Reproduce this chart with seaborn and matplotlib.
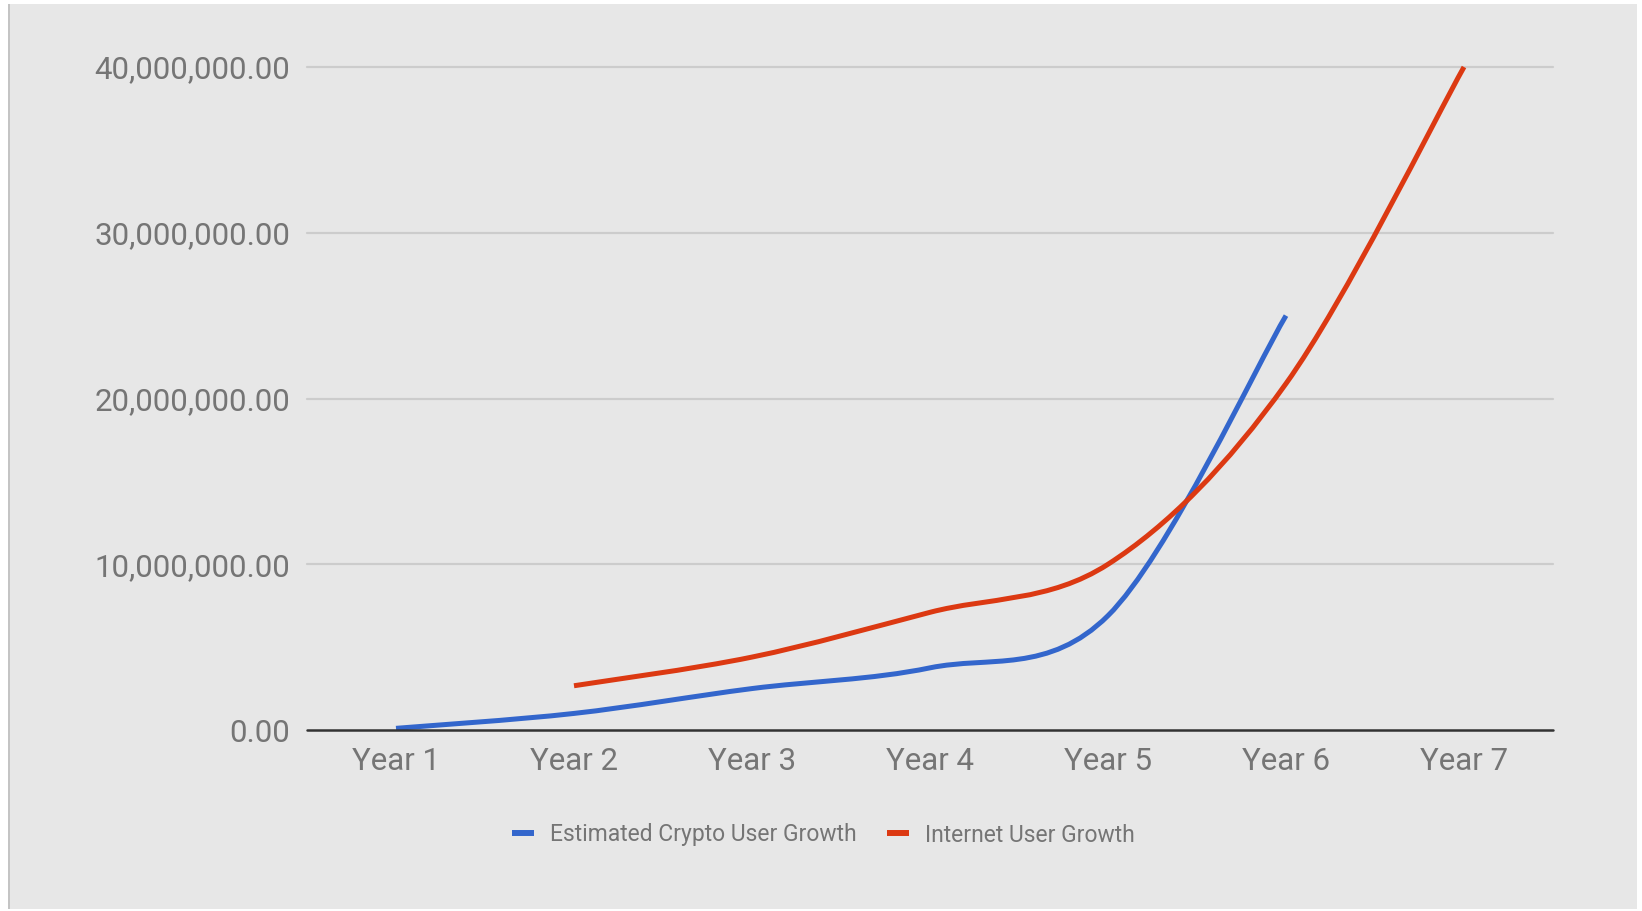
import numpy as np
import pandas as pd
import seaborn as sns
import matplotlib
matplotlib.use("Agg")
import matplotlib.pyplot as plt
from matplotlib.path import Path
from matplotlib.patches import PathPatch, Rectangle
from matplotlib.lines import Line2D
from matplotlib.ticker import FuncFormatter, FixedLocator

# ---- data ----
categories = ["Year 1", "Year 2", "Year 3", "Year 4", "Year 5", "Year 6", "Year 7"]
crypto_users = [0.1e6, 1.0e6, 2.5e6, 3.75e6, 6.9e6, 25.0e6, None]
internet_users = [None, 2.67e6, 4.4e6, 7.1e6, 10.0e6, 20.9e6, 40.0e6]
series_names = ["Estimated Crypto User Growth", "Internet User Growth"]
y_ticks = [0, 10e6, 20e6, 30e6, 40e6]

colors = ["#3366cc", "#dc3912"]
bg = "#e7e7e7"
text_col = "#757575"

sns.set_theme(style="white")
plt.rcParams["font.family"] = ["Roboto", "DejaVu Sans"]

W, H = 1642, 911
fig = plt.figure(figsize=(W / 100, H / 100), dpi=100, facecolor="white")
# grey card behind the chart
fig.patches.append(Rectangle((9 / W, 1 - 909 / H), (1637 - 9) / W, (909 - 4) / H,
                             transform=fig.transFigure, facecolor=bg,
                             edgecolor="none", zorder=-10))
fig.patches.append(Rectangle((8 / W, 1 - 909 / H), 2 / W, (909 - 4) / H,
                             transform=fig.transFigure, facecolor="#c4c4c4",
                             edgecolor="none", zorder=-9))

left, right = 307 / W, 1553 / W
bottom, top = 1 - 730 / H, 1 - 67 / H
ax = fig.add_axes([left, bottom, right - left, top - bottom])
ax.set_zorder(5)
ax.set_facecolor("none")

df = pd.DataFrame({"pos": np.arange(len(categories)),
                   series_names[0]: crypto_users,
                   series_names[1]: internet_users})


def smooth_path(xs, ys):
    """Catmull-Rom style cubic Bezier path through the data points."""
    pts = [(x, y) for x, y in zip(xs, ys) if y is not None and not pd.isna(y)]
    P = np.array(pts, dtype=float)
    n = len(P)
    verts = [tuple(P[0])]
    codes = [Path.MOVETO]
    for i in range(n - 1):
        p_prev = P[i - 1] if i > 0 else P[i]
        p_next2 = P[i + 2] if i + 2 < n else P[i + 1]
        c1 = P[i] + (P[i + 1] - p_prev) / 6.0
        c2 = P[i + 1] - (p_next2 - P[i]) / 6.0
        verts += [tuple(c1), tuple(c2), tuple(P[i + 1])]
        codes += [Path.CURVE4] * 3
    return Path(verts, codes)


for name, col in zip(series_names, colors):
    path = smooth_path(df["pos"], df[name])
    patch = PathPatch(path, facecolor="none", edgecolor=col, lw=3.6,
                      capstyle="butt", joinstyle="round", zorder=3,
                      clip_on=False)
    ax.add_patch(patch)

ax.set_xlim(-0.5, len(categories) - 0.5)
ax.set_ylim(0, 40e6)
ax.xaxis.set_major_locator(FixedLocator(df["pos"].tolist()))
ax.set_xticklabels(categories)
ax.set_yticks(y_ticks)
ax.yaxis.set_major_formatter(FuncFormatter(lambda v, p: f"{v:,.2f}"))

for s in ax.spines.values():
    s.set_visible(False)
ax.grid(False)
for yv in y_ticks[1:]:
    ax.axhline(yv, color="#cccccc", lw=1.6, zorder=1, clip_on=False)
ax.axhline(0, color="#333333", lw=1.8, zorder=4, clip_on=False)

ax.tick_params(axis="both", length=0, labelcolor=text_col, labelsize=22.5)
ax.tick_params(axis="y", pad=12)
ax.tick_params(axis="x", pad=12)
ax.set_xlabel("")
ax.set_ylabel("")

handles = [Line2D([0], [0], color=c, lw=4.3, solid_capstyle="butt") for c in colors]
leg = fig.legend(handles, series_names, loc="center",
                 bbox_to_anchor=(0.5015, 1 - 835 / H), ncol=2, frameon=False,
                 fontsize=16.5, handlelength=0.97, handletextpad=0.7,
                 columnspacing=1.3, labelcolor=text_col)

fig.savefig("out.png", dpi=100, facecolor="white")
